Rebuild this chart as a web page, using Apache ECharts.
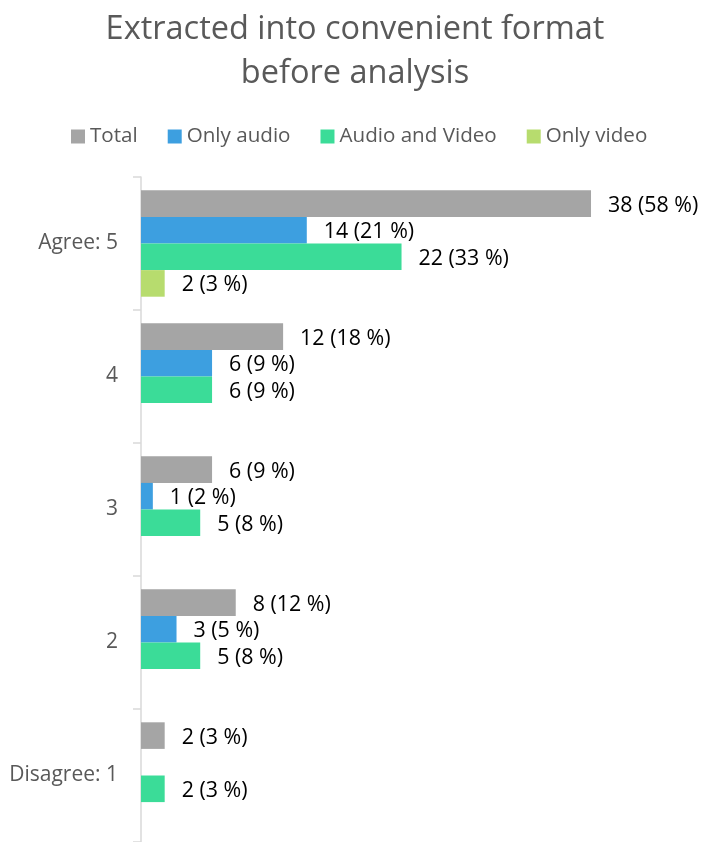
<!DOCTYPE html>
<html>
<head>
<meta charset="utf-8">
<script src="https://cdn.jsdelivr.net/npm/echarts@6/dist/echarts.min.js"></script>
<style>html,body{margin:0;padding:0;background:#fff}#c{width:710px;height:842px}</style>
</head>
<body>
<div id="c"></div>
<script>
const categories = ['Agree: 5', '4', '3', '2', 'Disagree: 1'];
const seriesNames = ['Total', 'Only audio', 'Audio and Video', 'Only video'];
const totalValues = [38, 12, 6, 8, 2];
const totalPct = [58, 18, 9, 12, 3];
const onlyAudioValues = [14, 6, 1, 3, 0];
const onlyAudioPct = [21, 9, 2, 5, 0];
const audioVideoValues = [22, 6, 5, 5, 2];
const audioVideoPct = [33, 9, 8, 8, 3];
const onlyVideoValues = [2, 0, 0, 0, 0];
const onlyVideoPct = [3, 0, 0, 0, 0];
const colors = ['#A5A5A5', '#3D9FE0', '#3BDC98', '#B7DC6E'];

const FONT = 'Open Sans';
const valuesList = [totalValues, onlyAudioValues, audioVideoValues, onlyVideoValues];
const pctList = [totalPct, onlyAudioPct, audioVideoPct, onlyVideoPct];

const chart = echarts.init(document.getElementById('c'), null, {renderer: 'canvas'});
chart.setOption({
  animation: false,
  backgroundColor: '#ffffff',
  title: {
    text: 'Extracted into convenient format\nbefore analysis',
    left: 'center',
    top: 3,
    textStyle: {fontFamily: FONT, fontSize: 32.5, fontWeight: 'normal', color: '#595959', lineHeight: 44}
  },
  legend: {
    data: seriesNames,
    top: 121,
    left: 66,
    itemWidth: 14,
    itemHeight: 14,
    itemGap: 30,
    icon: 'rect',
    textStyle: {fontFamily: FONT, fontSize: 20.6, color: '#595959', padding: [0, 0, 0, 0]}
  },
  grid: {left: 141, top: 177, width: 473.7, height: 668.5, containLabel: false},
  xAxis: {
    type: 'value', min: 0, max: 40, show: false
  },
  yAxis: {
    type: 'category',
    data: categories,
    inverse: true,
    axisLine: {show: true, lineStyle: {color: '#D9D9D9', width: 1.5}},
    axisTick: {show: true, length: 8, lineStyle: {color: '#D9D9D9', width: 1.5}},
    axisLabel: {fontFamily: FONT, fontSize: 21, color: '#595959', margin: 23, padding: [5, 0, 0, 0]}
  },
  series: seriesNames.map((name, i) => ({
    name: name,
    type: 'bar',
    data: valuesList[i],
    barGap: '0%',
    barCategoryGap: '20%',
    itemStyle: {color: colors[i]},
    label: {
      show: true,
      position: 'right',
      distance: 17,
      offset: [0, 2],
      fontFamily: FONT,
      fontSize: 21.4,
      color: '#000000',
      formatter: p => p.value === 0 ? '' : p.value + ' (' + pctList[i][p.dataIndex] + ' %)'
    }
  }))
});
</script>
</body>
</html>
